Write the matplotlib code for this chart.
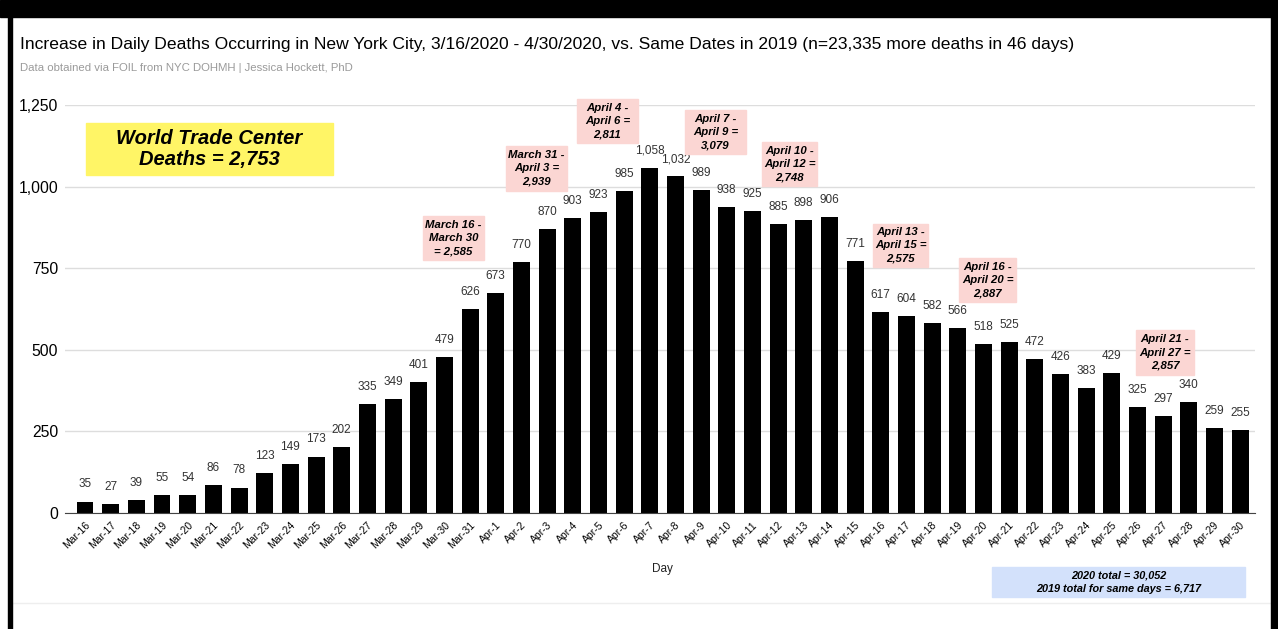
# Daily excess deaths in NYC, 2020 vs 2019 - bar chart with period notes

import matplotlib.pyplot as plt
from matplotlib.patches import Rectangle

days = ['Mar-16', 'Mar-17', 'Mar-18', 'Mar-19', 'Mar-20', 'Mar-21', 'Mar-22',
        'Mar-23', 'Mar-24', 'Mar-25', 'Mar-26', 'Mar-27', 'Mar-28', 'Mar-29',
        'Mar-30', 'Mar-31'] + ['Apr-%d' % d for d in range(1, 31)]
increase = [35, 27, 39, 55, 54, 86, 78, 123, 149, 173, 202, 335, 349, 401,
            479, 626, 673, 770, 870, 903, 923, 985, 1058, 1032, 989, 938, 925,
            885, 898, 906, 771, 617, 604, 582, 566, 518, 525, 472, 426, 383,
            429, 325, 297, 340, 259, 255]
yticks = [0, 250, 500, 750, 1000, 1250]

# period totals: text, box (left, top, right, bottom) in figure pixels
period_notes = [
    ('March 16 -\nMarch 30\n= 2,585', (423, 216, 484, 260)),
    ('March 31 -\nApril 3 =\n2,939', (506, 146, 567, 191)),
    ('April 4 -\nApril 6 =\n2,811', (577, 99, 638, 143)),
    ('April 7 -\nApril 9 =\n3,079', (685, 110, 746, 154)),
    ('April 10 -\nApril 12 =\n2,748', (762, 142, 817, 186)),
    ('April 13 -\nApril 15 =\n2,575', (873, 224, 928, 267)),
    ('April 16 -\nApril 20 =\n2,887', (959, 258, 1016, 302)),
    ('April 21 -\nApril 27 =\n2,857', (1136, 330, 1194, 375)),
]

plt.rcParams['font.family'] = ['Liberation Sans', 'DejaVu Sans']

W, H = 1278, 629
fig = plt.figure(figsize=(W / 100, H / 100), dpi=100)


def fx(px):
    return px / W


def fy(py):
    return 1 - py / H


def box(l, t, r, b, color):
    fig.patches.append(Rectangle((fx(l), fy(b)), fx(r) - fx(l), fy(t) - fy(b),
                                 color=color, transform=fig.transFigure,
                                 zorder=5))
    return fx((l + r) / 2), fy((t + b) / 2)


# black frame of the screenshot
fig.patches.append(Rectangle((0, fy(17)), 1, fy(0) - fy(17), color='black',
                             transform=fig.transFigure, zorder=10))
fig.patches.append(Rectangle((fx(8), 0), fx(4), fy(17), color='black',
                             transform=fig.transFigure, zorder=10))
fig.patches.append(Rectangle((fx(1271), 0), fx(7), fy(17), color='black',
                             transform=fig.transFigure, zorder=10))
fig.lines.append(plt.Line2D([fx(12), fx(1271)], [fy(603), fy(603)],
                            color='#eeeeee', lw=1, transform=fig.transFigure))

ax = fig.add_axes([fx(65), fy(513), fx(1255) - fx(65), fy(105) - fy(513)])
x = range(len(days))
ax.bar(x, increase, width=0.66, color='black', zorder=3)
for xi, v in zip(x, increase):
    ax.annotate('{:,}'.format(v), (xi, v), xytext=(0, 8),
                textcoords='offset points', ha='center', va='bottom',
                fontsize=8.5, color='#333333')

ax.set_xlim(-0.78, 45.58)
ax.set_ylim(0, 1250)
ax.set_yticks(yticks)
ax.set_yticklabels(['{:,}'.format(t) for t in yticks], fontsize=11.3)
ax.set_xticks(list(x))
ax.set_xticklabels(days, rotation=45, ha='right', rotation_mode='anchor',
                   fontsize=7.5)
ax.tick_params(length=0)
ax.tick_params(axis='y', pad=5)
ax.tick_params(axis='x', pad=5)
ax.grid(axis='y', color='#dddddd', lw=1, zorder=0)
for s in ['top', 'right', 'left']:
    ax.spines[s].set_visible(False)
ax.spines['bottom'].set_color('#444444')
ax.spines['bottom'].set_zorder(4)

fig.text(fx(662), fy(569), 'Day', ha='center', va='center', fontsize=8.5,
         color='#222222')

fig.text(fx(20), fy(45), 'Increase in Daily Deaths Occurring in New York City, '
         '3/16/2020 - 4/30/2020, vs. Same Dates in 2019 '
         '(n=23,335 more deaths in 46 days)', ha='left', va='center',
         fontsize=12.6)
fig.text(fx(20), fy(68), 'Data obtained via FOIL from NYC DOHMH | Jessica '
         'Hockett, PhD', ha='left', va='center', fontsize=8.2, color='#9a9a9a')

for txt, (l, t, r, b) in period_notes:
    cx, cy = box(l, t, r, b, '#fbd6d3')
    fig.text(cx, cy, txt, ha='center', va='center', fontsize=8.2,
             fontweight='bold', fontstyle='italic', linespacing=1.38,
             zorder=6)

cx, cy = box(86, 123, 333, 175, '#fff566')
fig.text(cx, cy, 'World Trade Center\nDeaths = 2,753', ha='center',
         va='center', fontsize=14.5, fontweight='bold', fontstyle='italic',
         linespacing=1.15, zorder=6)

cx, cy = box(992, 567, 1245, 597, '#d3e1fb')
fig.text(cx, cy, '2020 total = 30,052\n2019 total for same days = 6,717',
         ha='center', va='center', fontsize=7.8, fontweight='bold',
         fontstyle='italic', linespacing=1.45, zorder=6)

fig.savefig('out.png', dpi=100)
